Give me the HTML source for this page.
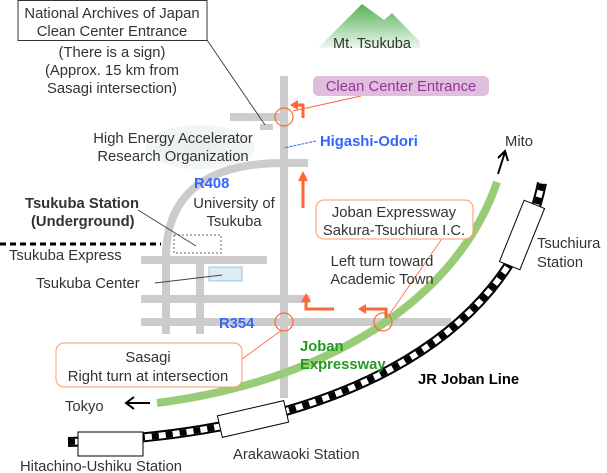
<!DOCTYPE html>
<html><head><style>
html,body{margin:0;padding:0;background:#fff;}
svg{display:block;font-family:"Liberation Sans",sans-serif;}
</style></head><body>
<svg width="607" height="473" viewBox="0 0 607 473" xmlns="http://www.w3.org/2000/svg">
<defs>
<linearGradient id="mt" x1="0" y1="0" x2="0" y2="1"><stop offset="0" stop-color="#55b055"/><stop offset="1" stop-color="#eef7ee"/></linearGradient>
<radialGradient id="kek"><stop offset="0" stop-color="#e6efe9"/><stop offset="1" stop-color="#f3f7f4"/></radialGradient>
</defs>
<path d="M318,48 L362,4 L384,20 L392,13 L420,42 L420,48 Z" fill="url(#mt)"/>
<text x="333" y="48" font-size="14.5" fill="#333">Mt. Tsukuba</text>
<ellipse cx="200" cy="147" rx="55" ry="22" fill="url(#kek)"/>
<g stroke="#cccccc" stroke-width="8" fill="none">
<line x1="284" y1="76" x2="284" y2="398"/>
<line x1="230" y1="117" x2="284" y2="117"/>
<path d="M166,334 L166,255 Q168,163 284,163 L308,163"/>
<line x1="141" y1="260" x2="267" y2="260"/>
<line x1="141" y1="299" x2="310" y2="299"/>
<line x1="141" y1="322" x2="451" y2="322"/>
<line x1="200" y1="260" x2="200" y2="334"/>
</g>
<rect x="260" y="124" width="13" height="6" fill="#cccccc"/>
<rect x="209" y="267" width="33" height="14" fill="#dcecf7" stroke="#9cc5e8"/>
<rect x="174" y="235" width="47" height="18" fill="none" stroke="#666" stroke-dasharray="2,2"/>
<line x1="0" y1="244" x2="161" y2="244" stroke="#000" stroke-width="3" stroke-dasharray="6,4"/>
<path d="M157,403 C320,382 455,305 497,182" stroke="#99cc77" stroke-width="8" fill="none"/>
<path d="M68,442 C330,435 510,340 542,183" stroke="#000" stroke-width="10" fill="none"/>
<path d="M68,442 C330,435 510,340 542,183" stroke="#fff" stroke-width="6" fill="none"/>
<path d="M68,442 C330,435 510,340 542,183" stroke="#000" stroke-width="6" fill="none" stroke-dasharray="7,7"/>
<rect x="78" y="432" width="65" height="24" fill="#fff" stroke="#000"/>
<rect x="219" y="408" width="68" height="22" fill="#fff" stroke="#000" transform="rotate(-13 253 419)"/>
<rect x="489" y="224" width="66" height="22" fill="#fff" stroke="#000" transform="rotate(-68 522 235)"/>
<g stroke="#ff6633" stroke-width="1.2" fill="none">
<circle cx="284" cy="117" r="9"/><circle cx="284" cy="322" r="9"/><circle cx="383" cy="322" r="9"/>
</g>
<g stroke="#ff6633" stroke-width="3" fill="none">
<path d="M303,118 L303,105 L296,105"/>
<line x1="303" y1="208" x2="303" y2="180"/>
<path d="M334,309 L306,309 L306,301"/>
<path d="M386,318 L386,309 L364,309"/>
</g>
<g fill="#ff6633">
<path d="M290,105 L298,100 L298,110 Z"/>
<path d="M303,171 L298,181 L308,181 Z"/>
<path d="M306,293 L301,302 L311,302 Z"/>
<path d="M358,309 L366,304 L366,314 Z"/>
</g>
<g stroke="#444" stroke-width="1" fill="none">
<line x1="207" y1="40" x2="265" y2="125"/>
<line x1="138" y1="210" x2="196" y2="246"/>
<line x1="155" y1="283" x2="222" y2="275"/>
</g>
<line x1="361" y1="96" x2="293" y2="111" stroke="#ff6633"/>
<line x1="316" y1="141" x2="284" y2="148" stroke="#3366ff" stroke-dasharray="3,1"/>
<line x1="448" y1="230" x2="389" y2="315" stroke="#ff6633" stroke-width="0.8"/>
<line x1="242" y1="359" x2="282" y2="330" stroke="#ff6633" stroke-width="0.8"/>
<rect x="18" y="0.5" width="189" height="40" fill="#fff" stroke="#333"/>
<rect x="313" y="76" width="176" height="20" rx="5" fill="#dfbedd"/>
<rect x="316" y="200" width="157" height="39" rx="8" fill="#fff" stroke="#ff9966"/>
<rect x="56" y="343" width="186" height="44" rx="8" fill="#fff" stroke="#ff9966"/>
<g font-size="14.8" fill="#333" text-anchor="middle">
<text x="112" y="18">National Archives of Japan</text>
<text x="112" y="36">Clean Center Entrance</text>
<text x="112" y="57">(There is a sign)</text>
<text x="112" y="75">(Approx. 15 km from</text>
<text x="112" y="93">Sasagi intersection)</text>
<text x="173" y="143">High Energy Accelerator</text>
<text x="173" y="161">Research Organization</text>
<text x="234" y="208">University of</text>
<text x="234" y="226">Tsukuba</text>
<text x="394" y="217">Joban Expressway</text>
<text x="394" y="235">Sakura-Tsuchiura I.C.</text>
<text x="382" y="266">Left turn toward</text>
<text x="382" y="284">Academic Town</text>
<text x="148" y="362">Sasagi</text>
<text x="148" y="381">Right turn at intersection</text>
<text x="401" y="91" fill="#993399">Clean Center Entrance</text>
</g>
<g font-size="14.8" fill="#333">
<text x="25" y="208" font-weight="bold">Tsukuba Station</text>
<text x="31" y="226" font-weight="bold">(Underground)</text>
<text x="9" y="260">Tsukuba Express</text>
<text x="36" y="288">Tsukuba Center</text>
<text x="505" y="146">Mito</text>
<text x="537" y="248">Tsuchiura</text>
<text x="537" y="267">Station</text>
<text x="65" y="411">Tokyo</text>
<text x="233" y="459">Arakawaoki Station</text>
<text x="20" y="471">Hitachino-Ushiku Station</text>
<text x="418" y="384" font-weight="bold" fill="#000">JR Joban Line</text>
<text x="300" y="351" font-weight="bold" fill="#229922">Joban</text>
<text x="300" y="369" font-weight="bold" fill="#229922">Expressway</text>
<text x="320" y="146" font-weight="bold" fill="#3366ff">Higashi-Odori</text>
<text x="194" y="188" font-weight="bold" fill="#3366ff">R408</text>
<text x="219" y="328" font-weight="bold" fill="#3366ff">R354</text>
</g>
<g stroke="#000" stroke-width="2" fill="none">
<path d="M498,174 L505,152 M498,158 L505,151 L508,161"/>
<path d="M150,403 L126,403 M134,397 L126,403 L134,409"/>
</g>
</svg>
</body></html>
